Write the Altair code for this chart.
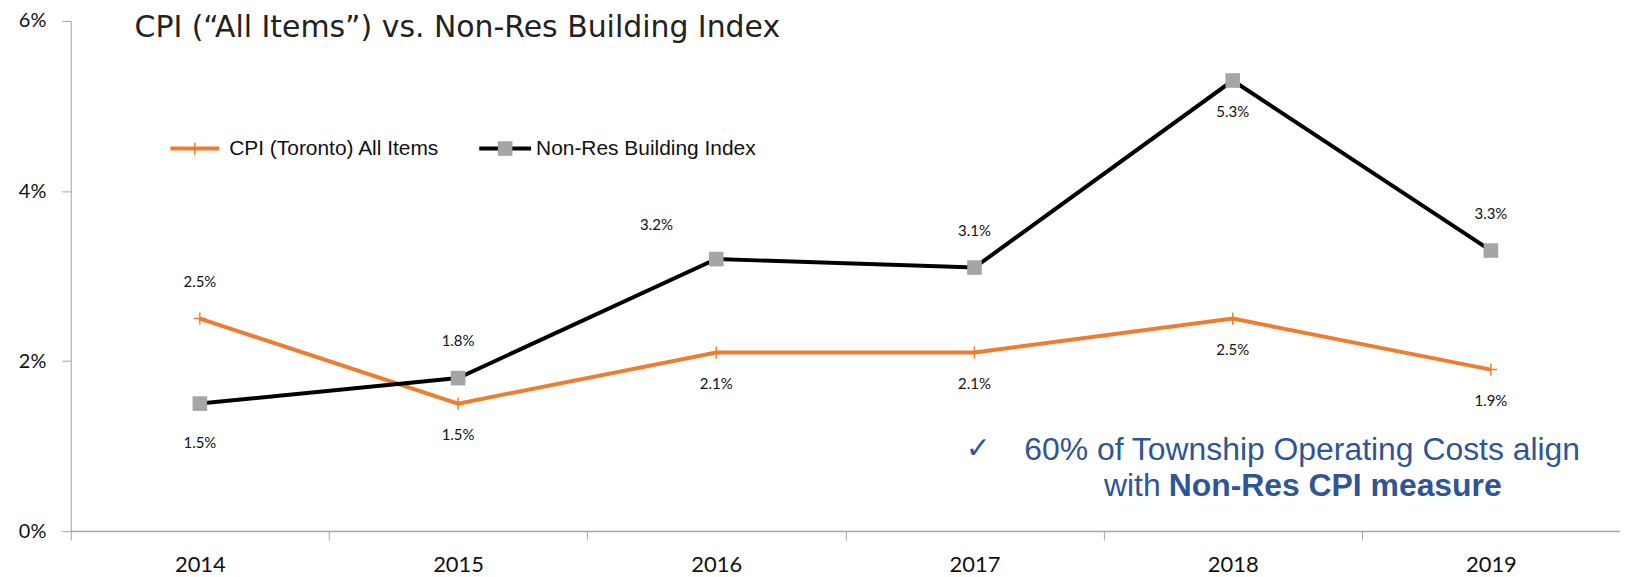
import altair as alt
import pandas as pd

# ---- data ----
years = ["2014", "2015", "2016", "2017", "2018", "2019"]
cpi_values = [2.5, 1.5, 2.1, 2.1, 2.5, 1.9]
nonres_values = [1.5, 1.8, 3.2, 3.1, 5.3, 3.3]
series_names = ["CPI (Toronto) All Items", "Non-Res Building Index"]
# where each data label sits relative to its point
cpi_label_side = ["above", "below", "below", "below", "below", "below"]
nonres_label_side = ["below2", "above", "aboveleft", "above", "below", "above"]
y_ticks = [0, 2, 4, 6]

title_text = "CPI (\u201cAll Items\u201d) vs. Non-Res Building Index"
note_line1 = "60% of Township Operating Costs align"
note_line2a = "with"
note_line2b = "Non-Res CPI measure"

ORANGE = "#ED7D31"
BLACK = "#000000"
MARKER_GRAY = "#A5A5A5"
AXIS_GRAY = "#A6A6A6"
BLUE = "#2F5597"

rows = []
for i, yr in enumerate(years):
    rows.append({"year": yr, "value": cpi_values[i], "series": series_names[0], "side": cpi_label_side[i]})
for i, yr in enumerate(years):
    rows.append({"year": yr, "value": nonres_values[i], "series": series_names[1], "side": nonres_label_side[i]})
df = pd.DataFrame(rows)

x_enc = alt.X(
    "year:N",
    sort=years,
    scale=alt.Scale(type="band", paddingInner=0, paddingOuter=0),
    bandPosition=0.5,
    axis=alt.Axis(
        title=None,
        tickBand="extent",
        tickSize=9,
        tickColor=AXIS_GRAY,
        tickWidth=1,
        domainColor=AXIS_GRAY,
        domainWidth=1.5,
        labelFont="Lato",
        labelFontSize=22,
        labelColor="#111111",
        labelPadding=15,
        labelAngle=0,
    ),
)
y_enc = alt.Y(
    "value:Q",
    scale=alt.Scale(domain=[0, 6], nice=False, zero=True),
    axis=alt.Axis(
        title=None,
        values=y_ticks,
        labelExpr="datum.value + '%'",
        tickSize=9,
        tickColor=AXIS_GRAY,
        domainColor=AXIS_GRAY,
        domainWidth=1,
        grid=False,
        labelFont="Lato",
        labelFontSize=20,
        labelColor="#111111",
        labelPadding=16,
    ),
)

base = alt.Chart(df).encode(x=x_enc, y=y_enc).transform_calculate(
    label="format(datum.value, '.1f') + '%'"
)

cpi_f = alt.datum.series == series_names[0]
nr_f = alt.datum.series == series_names[1]

plus_path = "M-1,0L1,0M0,-1L0,1"

cpi_line = base.transform_filter(cpi_f).mark_line(color=ORANGE, strokeWidth=4)
cpi_pts = base.transform_filter(cpi_f).mark_point(
    shape=plus_path, filled=False, stroke=ORANGE, strokeWidth=1.5, size=150, opacity=1
)
nr_line = base.transform_filter(nr_f).mark_line(color=BLACK, strokeWidth=4)
nr_pts = base.transform_filter(nr_f).mark_point(
    shape="square", filled=True, color=MARKER_GRAY, size=215, opacity=1
)

label_style = dict(font="Lato", fontSize=15, color="#111111", align="center", baseline="middle")
lab_above = base.transform_filter(alt.datum.side == "above").mark_text(dy=-37, **label_style).encode(text="label:N")
lab_below = base.transform_filter(alt.datum.side == "below").mark_text(dy=32, **label_style).encode(text="label:N")
lab_below2 = base.transform_filter(alt.datum.side == "below2").mark_text(dy=40, **label_style).encode(text="label:N")
lab_aleft = base.transform_filter(alt.datum.side == "aboveleft").mark_text(dx=-60, dy=-34, **label_style).encode(text="label:N")

one = alt.Chart(pd.DataFrame({"k": [0]}))

# title
title = one.mark_text(
    font="DejaVu Sans", fontSize=30, color="#222222", align="left", baseline="alphabetic"
).encode(x=alt.value(64), y=alt.value(16), text=alt.value(title_text))

# legend
leg_y = 128
leg1_line = one.mark_rule(color=ORANGE, strokeWidth=4).encode(x=alt.value(100), x2=alt.value(149), y=alt.value(leg_y))
leg1_pt = one.mark_point(shape=plus_path, filled=False, stroke=ORANGE, strokeWidth=1.5, size=150, opacity=1).encode(
    x=alt.value(124.5), y=alt.value(leg_y)
)
leg1_txt = one.mark_text(font="Liberation Sans", fontSize=21, color="#111111", align="left", baseline="middle").encode(
    x=alt.value(159), y=alt.value(leg_y), text=alt.value(series_names[0])
)
leg2_line = one.mark_rule(color=BLACK, strokeWidth=4).encode(x=alt.value(410), x2=alt.value(462), y=alt.value(leg_y))
leg2_pt = one.mark_point(shape="square", filled=True, color=MARKER_GRAY, size=215, opacity=1).encode(
    x=alt.value(436), y=alt.value(leg_y)
)
leg2_txt = one.mark_text(font="Liberation Sans", fontSize=21, color="#111111", align="left", baseline="middle").encode(
    x=alt.value(467), y=alt.value(leg_y), text=alt.value(series_names[1])
)

# annotation
check = one.mark_text(font="DejaVu Sans", fontSize=30, color=BLUE, align="center", baseline="middle").encode(
    x=alt.value(911), y=alt.value(430), text=alt.value("\u2713")
)
note1 = one.mark_text(font="Liberation Sans", fontSize=32, color=BLUE, align="center", baseline="middle").encode(
    x=alt.value(1236), y=alt.value(431), text=alt.value(note_line1)
)
note2a = one.mark_text(font="Liberation Sans", fontSize=32, color=BLUE, align="right", baseline="middle").encode(
    x=alt.value(1094), y=alt.value(467), text=alt.value(note_line2a)
)
note2b = one.mark_text(
    font="Liberation Sans", fontSize=32, fontWeight="bold", color=BLUE, align="left", baseline="middle"
).encode(x=alt.value(1102), y=alt.value(467), text=alt.value(note_line2b))

chart = alt.layer(
    cpi_line, cpi_pts, nr_line, nr_pts,
    lab_above, lab_below, lab_below2, lab_aleft,
    title,
    leg1_line, leg1_pt, leg1_txt, leg2_line, leg2_pt, leg2_txt,
    check, note1, note2a, note2b,
).properties(
    width=1555,
    height=512,
    autosize=alt.AutoSizeParams(type="none"),
    padding={"left": 63, "top": 12, "right": 0, "bottom": 45},
    background="white",
).configure_view(stroke=None)

chart.save("out.html", embed_options={"renderer": "svg", "actions": False})
